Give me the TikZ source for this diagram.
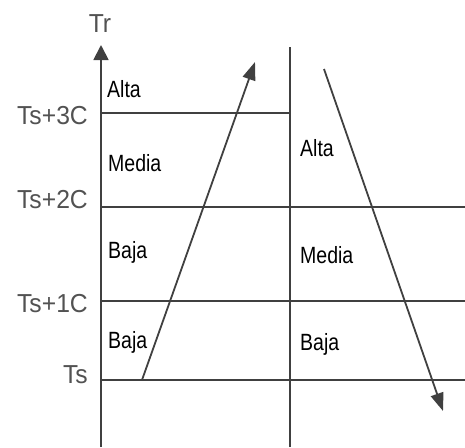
\documentclass[tikz,border=0pt]{standalone}
\usepackage{fontspec}
\setmainfont{Liberation Sans}
\newfontfamily\lvfont[FakeStretch=0.83]{Liberation Sans}
\newfontfamily\tkfont[FakeStretch=0.95]{Liberation Sans}
\usetikzlibrary{arrows.meta,positioning}
\definecolor{axgray}{rgb}{0.25,0.25,0.25}
\definecolor{tkgray}{rgb}{0.32,0.32,0.32}

\begin{document}
\begin{tikzpicture}[x=1pt, y=-1pt,
    ln/.style={line width=1.8pt, draw=axgray},
    ax/.style={-{Triangle[length=15pt,width=15pt]}, line width=1.8pt, draw=axgray},
    ar/.style={-{Triangle[length=18pt,width=13pt]}, line width=1.8pt, draw=axgray},
    tk/.style={font=\tkfont\fontsize{26}{26}\selectfont, text=tkgray, inner sep=0pt, anchor=base east},
    lv/.style={font=\lvfont\fontsize{23.5}{23.5}\selectfont, inner sep=0pt, anchor=base west}]
    \useasboundingbox (0,0) rectangle (465,447);
    % axes
    \coordinate (o) at (101,447);
    \coordinate (top) at (101,45);
    \coordinate (mb) at (290,447);
    \coordinate (mt) at (290,47);
    \draw[ax] (o)--(top);
    \draw[ln] (mb)--(mt);
    \node[font=\tkfont\fontsize{26}{26}\selectfont, text=tkgray, inner sep=0pt, anchor=base] (tr) at (100,32) {Tr};
    % levels
    \coordinate (l3a) at (101,113); \coordinate (l3b) at (290,113);
    \coordinate (l2a) at (101,207); \coordinate (l2b) at (465,207);
    \coordinate (l1a) at (101,301); \coordinate (l1b) at (465,301);
    \coordinate (l0a) at (101,380); \coordinate (l0b) at (465,380);
    \draw[ln] (l3a)--(l3b); \draw[ln] (l2a)--(l2b);
    \draw[ln] (l1a)--(l1b); \draw[ln] (l0a)--(l0b);
    \node[tk] (t3) at (88,124) {Ts+3C};
    \node[tk] (t2) at (88,208) {Ts+2C};
    \node[tk] (t1) at (88,312) {Ts+1C};
    \node[tk] (t0) at (88,383) {Ts};
    % left column
    \node[lv] (la) at (107,97) {Alta};
    \node[lv] (lm) at (108,171) {Media};
    \node[lv] (lb2) at (108,258) {Baja};
    \node[lv] (lb1) at (108,348) {Baja};
    % right column
    \node[lv] (ra) at (300,156) {Alta};
    \node[lv] (rm) at (300,263) {Media};
    \node[lv] (rb) at (300,350) {Baja};
    % arrows
    \coordinate (up0) at (142,380); \coordinate (up1) at (255,62);
    \coordinate (dn0) at (324,69); \coordinate (dn1) at (443,411);
    \draw[ar] (up0)--(up1);
    \draw[ar] (dn0)--(dn1);
\end{tikzpicture}
\end{document}
